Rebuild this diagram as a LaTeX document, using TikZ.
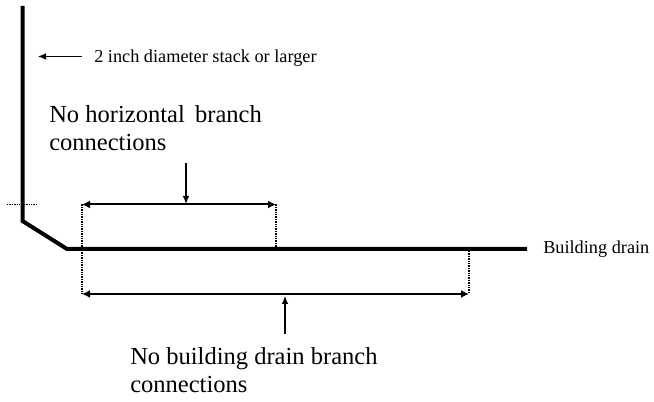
\documentclass[tikz,border=0pt]{standalone}
\usepackage{fontspec}
\setmainfont{Liberation Serif}
\usetikzlibrary{arrows.meta}
\tikzset{
    pipe/.style={line width=3pt, line join=miter},
    guide/.style={line width=0.9pt, dash pattern=on 1pt off 0.8pt},
    span/.style={line width=1.5pt, {Latex[length=6pt,width=6pt]}-{Latex[length=6pt,width=6pt]}},
    pointer/.style={line width=0.9pt, -{Latex[length=6pt,width=5pt]}},
    bigtext/.style={inner sep=0pt, align=left, anchor=north west, font=\fontsize{18.4}{21}\selectfont},
    smalltext/.style={inner sep=0pt, anchor=base west, font=\fontsize{13.7}{16}\selectfont}
}
\begin{document}
\begin{tikzpicture}[x=0.75pt, y=-0.75pt]
    \useasboundingbox (0,0) rectangle (654,402);
        %Pipe corners
    \coordinate (stacktop) at (22.5,6);
    \coordinate (stackbend) at (22.5,221);
    \coordinate (drainbend) at (67,249);
    \coordinate (drainend) at (527,249);
        %Span ends
    \coordinate (upleft) at (82,204.5);
    \coordinate (upright) at (276,204.5);
    \coordinate (lowleft) at (82,294);
    \coordinate (lowright) at (469,294);
        %Pipe
    \draw[pipe] (stacktop) -- (stackbend) -- (drainbend) -- (drainend);
        %Dotted guides
    \coordinate (tickleft) at (7,204.5);
    \coordinate (tickright) at (38,204.5);
    \coordinate (uprightfoot) at (276,247);
    \coordinate (lowrightfoot) at (469,251);
    \draw[guide] (tickleft) -- (tickright);
    \draw[guide] (upleft) -- (lowleft);
    \draw[guide] (upright) -- (uprightfoot);
    \draw[guide] (lowrightfoot) -- (lowright);
        %Spans
    \draw[span] (upleft) -- (upright);
    \draw[span, line width=1.2pt] (lowleft) -- (lowright);
        %Labels
    \node[smalltext] (stacklabel) at (94,63) {2 inch diameter stack or larger};
    \node[smalltext] (drainlabel) at (543,253.5) {Building drain};
    \node[bigtext] (upperlabel) at (49,105.5) {No horizontal\, branch\\connections};
    \node[bigtext] (lowerlabel) at (130,347.5) {No building drain branch\\connections};
        %Pointers
    \coordinate (stackfrom) at (82,56.5);
    \coordinate (stackto) at (38,56.5);
    \coordinate (upperfrom) at (186,163);
    \coordinate (upperto) at (186,204);
    \coordinate (lowerfrom) at (285,334);
    \coordinate (lowerto) at (285,296);
    \draw[pointer] (stackfrom) -- (stackto);
    \draw[pointer] (upperfrom) -- (upperto);
    \draw[pointer] (lowerfrom) -- (lowerto);
\end{tikzpicture}
\end{document}
